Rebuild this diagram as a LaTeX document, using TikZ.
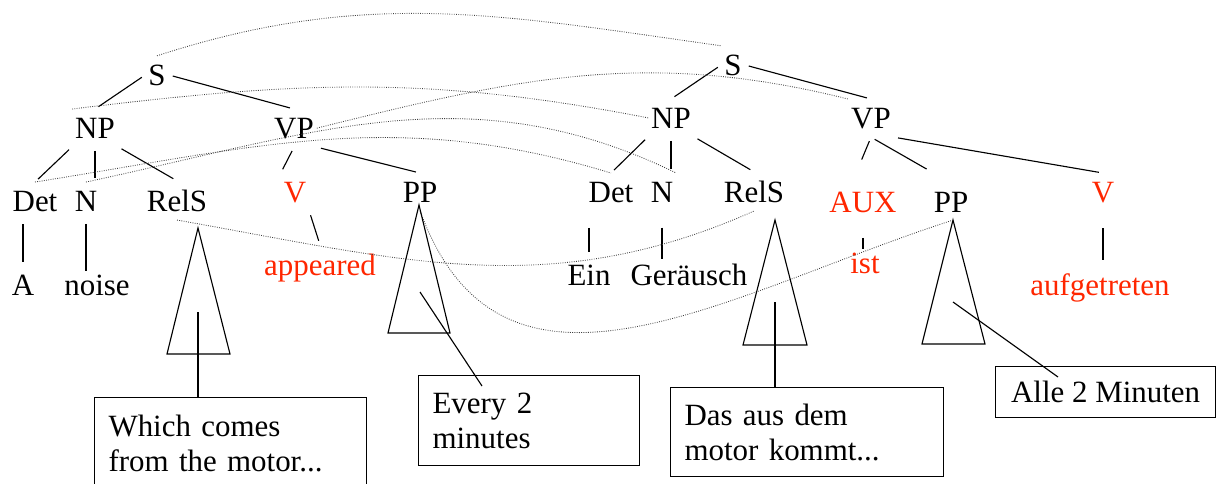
\documentclass[tikz,border=0pt]{standalone}
\usepackage{fontspec}
\setmainfont{Liberation Serif}

\definecolor{vred}{RGB}{255,38,0}

\begin{document}
\begin{tikzpicture}[x=0.025cm, y=0.025cm,
	gloss/.style = {draw, line width=0.8pt, anchor=north west, align=left,
		inner xsep=0.35cm, inner ysep=0.2cm, font=\fontsize{22}{25}\selectfont}]
	\useasboundingbox (0,0) rectangle (1216,-483);
	\clip (0,0) rectangle (1216,-483);
	\begin{scope}[every node/.style = {anchor=base, inner xsep=2pt, inner ysep=6pt,
		font=\fontsize{22}{25}\selectfont}]
		% english tree
		\node (S1) at (157,-85) {S};
		\node (NP1) at (95,-138) {NP};
		\node (VP1) at (294,-138) {VP};
		\node (Det1) at (35,-211) {Det};
		\node (N1) at (86,-211) {N};
		\node (RelS1) at (177,-211) {RelS};
		\node[text=vred] (V1) at (295,-202) {V};
		\node (PP1) at (420,-202) {PP};
		\node (A1) at (23,-295) {A};
		\node (noise) at (97,-295) {noise};
		\node[text=vred] (appeared) at (320,-275) {appeared};
		% german tree
		\node (S2) at (733,-75) {S};
		\node (NP2) at (671,-128) {NP};
		\node (VP2) at (871,-128) {VP};
		\node (Det2) at (611,-202) {Det};
		\node (N2) at (662,-202) {N};
		\node (RelS2) at (754,-202) {RelS};
		\node[text=vred] (AUX) at (863,-212) {AUX};
		\node (PP2) at (951,-212) {PP};
		\node[text=vred] (V2) at (1103,-202) {V};
		\node (Ein) at (589,-285) {Ein};
		\node (geraeusch) at (689,-285) {Geräusch};
		\node[text=vred] (ist) at (865,-273) {ist};
		\node[text=vred] (aufgetreten) at (1100,-295) {aufgetreten};
	\end{scope}
	\begin{scope}[every edge/.style = {draw, line width=0.8pt,
		shorten <=3pt, shorten >=3pt}]
		\path (S1.west) edge (NP1.north);
		\path (S1.east) edge (VP1.north);
		\path (NP1.south west) edge (Det1.north);
		\path (NP1.south) edge (NP1.south |- N1.north);
		\path (NP1.south east) edge (RelS1.north);
		\path (VP1.south) edge (V1.north west);
		\path (VP1.south east) edge (PP1.north);
		\path (A1.north |- Det1.south) edge (A1.north);
		\path (N1.south) edge[shorten >=-4pt] (N1.south |- noise.north);
		\path (V1.south east) edge (appeared.north);
		\path (S2.west) edge (NP2.north);
		\path (S2.east) edge (VP2.north);
		\path (NP2.south west) edge (Det2.north);
		\path (NP2.south) edge (NP2.south |- N2.north);
		\path (NP2.south east) edge (RelS2.north);
		\path (VP2.south) edge[shorten >=18pt] (AUX.120);
		\path (VP2.south) edge[shorten >=20pt] (PP2.north);
		\path (VP2.south east) edge (V2.north);
		\path (Ein.north |- Det2.south) edge[shorten <=12pt] (Ein.north);
		\path (N2.south) edge[shorten <=12pt, shorten >=-3pt] (N2.south |- geraeusch.north);
		\path (AUX.south) edge[shorten <=12pt, shorten >=-4pt] (AUX.south |- ist.north);
		\path (V2.south) edge[shorten <=12pt] (V2.south |- aufgetreten.north);
	\end{scope}
	% alignment links between the two trees
	\begin{scope}[every edge/.style = {draw, line width=0.6pt, densely dotted, black!75}]
		\path (S1.north) edge[out=18, in=172] (S2.north west);
		\path (NP1.north west) edge[out=7, in=169] (NP2.west);
		\path (VP1.east) edge[out=14, in=166] (VP2.north west);
		\path (Det1.north) edge[out=9, in=163] (Det2.north);
		\path (N1.north) edge[out=12, in=154] (N2.north east);
		\path (RelS1.south) edge[out=-10, in=204] (RelS2.south);
		\path (PP1.south) edge[out=-70, in=198, looseness=1.15] (PP2.south);
	\end{scope}
	% collapsed subtrees
	\begin{scope}[line width=0.8pt]
		\draw (198,-228) -- (167,-354) -- (230,-354) -- cycle;
		\draw (419,-205) -- (388,-333) -- (450,-333) -- cycle;
		\draw (775,-220) -- (743,-345) -- (807,-345) -- cycle;
		\draw (953,-220) -- (922,-344) -- (985,-344) -- cycle;
	\end{scope}
	\node[gloss, text width=6.1cm, minimum height=2.3cm] (which) at (94,-397)
		{Which comes\\from the motor...};
	\node[gloss, text width=4.825cm, minimum height=2.25cm] (every) at (418,-375)
		{Every 2\\minutes};
	\node[gloss, minimum width=5.5cm, minimum height=1.275cm, align=center] (alle) at (995,-366)
		{Alle 2 Minuten};
	\node[gloss, text width=6.125cm, minimum height=2.225cm] (das) at (670,-387)
		{Das aus dem\\motor kommt...};
	\coordinate (relsFoot) at (198,-312);
	\coordinate (ppFoot) at (420,-292);
	\coordinate (ppTip) at (482,-386);
	\coordinate (relsFoot2) at (775,-302);
	\coordinate (ppFoot2) at (953,-302);
	\coordinate (ppTip2) at (1058,-377);
	\draw[line width=0.8pt] (relsFoot) -- (relsFoot |- which.north);
	\draw[line width=0.8pt] (ppFoot) -- (ppTip);
	\draw[line width=0.8pt] (relsFoot2) -- (relsFoot2 |- das.north);
	\draw[line width=0.8pt] (ppFoot2) -- (ppTip2);
\end{tikzpicture}
\end{document}
